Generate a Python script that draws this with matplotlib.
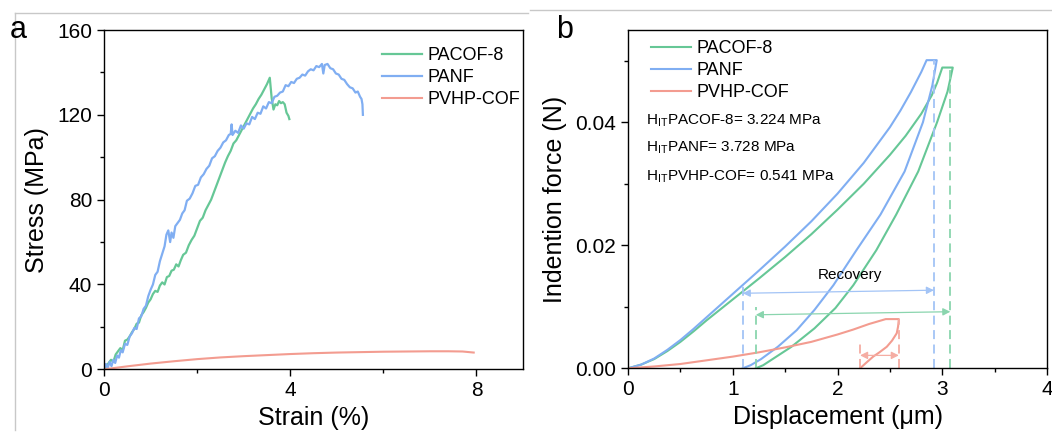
import matplotlib
matplotlib.use('Agg')
import matplotlib.pyplot as plt
from matplotlib.lines import Line2D
from matplotlib.ticker import MultipleLocator, FormatStrFormatter

plt.rcParams['font.family'] = ['Liberation Sans', 'DejaVu Sans']
plt.rcParams['mathtext.fontset'] = 'custom'
plt.rcParams['mathtext.rm'] = 'Liberation Sans'

# ---- (a) tensile curves ----
panf_strain = [0.00, 0.04, 0.08, 0.12, 0.16, 0.20, 0.24, 0.28, 0.32, 0.36,
               0.40, 0.45, 0.50, 0.55, 0.60, 0.65, 0.70, 0.75, 0.80, 0.85,
               0.90, 0.95, 1.00, 1.05, 1.10, 1.15, 1.20, 1.25, 1.30, 1.34,
               1.38, 1.42, 1.45, 1.49, 1.53, 1.58, 1.63, 1.68, 1.73, 1.78,
               1.84, 1.90, 1.96, 2.02, 2.08, 2.14, 2.20, 2.26, 2.32, 2.38,
               2.44, 2.50, 2.56, 2.62, 2.68, 2.72, 2.74, 2.76, 2.82, 2.88,
               2.94, 3.00, 3.06, 3.12, 3.18, 3.24, 3.30, 3.36, 3.42, 3.48,
               3.54, 3.60, 3.66, 3.72, 3.78, 3.84, 3.90, 3.96, 4.02, 4.08,
               4.14, 4.20, 4.26, 4.32, 4.38, 4.44, 4.50, 4.56, 4.62, 4.68,
               4.71, 4.74, 4.80, 4.86, 4.92, 4.98, 5.04, 5.10, 5.16, 5.22,
               5.28, 5.34, 5.40, 5.45, 5.50, 5.53, 5.55, 5.56]
panf_stress = [0.0, 2.5, 0.8, 3.5, 1.5, 4.5, 3.0, 6.5, 5.5, 9.0,
               8.0, 12.0, 11.5, 15.5, 17.0, 19.5, 19.0, 24.0, 25.0, 28.5,
               30.0, 34.5, 37.5, 40.0, 44.5, 46.0, 51.0, 54.5, 58.0, 63.5,
               65.5, 60.0, 64.5, 62.0, 67.5, 69.0, 70.5, 73.5, 75.0, 79.5,
               80.5, 83.0, 86.5, 87.0, 90.5, 92.0, 94.5, 96.0, 99.5, 100.5,
               103.0, 104.5, 107.0, 108.0, 110.5, 111.0, 115.5, 110.5, 112.5, 111.5,
               115.0, 113.5, 116.0, 115.5, 119.0, 118.0, 121.0, 120.5, 124.0, 123.0,
               126.0, 125.5, 128.5, 129.0, 130.5, 131.0, 134.0, 133.5, 135.5, 135.0,
               137.0, 137.5, 139.0, 138.5, 140.5, 141.5, 141.0, 143.0, 142.5, 144.0,
               139.5, 143.5, 144.0, 142.0, 141.5, 139.5, 139.0, 137.0, 136.5, 134.5,
               133.0, 132.5, 130.5, 131.0, 128.5, 127.5, 125.0, 120.0]

pacof_strain = [0.00, 0.05, 0.10, 0.15, 0.20, 0.25, 0.30, 0.35, 0.40, 0.45,
                0.50, 0.55, 0.60, 0.65, 0.70, 0.75, 0.80, 0.85, 0.90, 0.95,
                1.00, 1.05, 1.10, 1.15, 1.20, 1.25, 1.30, 1.35, 1.40, 1.45,
                1.50, 1.55, 1.60, 1.65, 1.70, 1.76, 1.82, 1.88, 1.94, 2.00,
                2.06, 2.12, 2.18, 2.24, 2.30, 2.36, 2.42, 2.48, 2.54, 2.60,
                2.66, 2.72, 2.78, 2.84, 2.90, 2.96, 3.02, 3.08, 3.14, 3.20,
                3.26, 3.32, 3.38, 3.44, 3.50, 3.56, 3.60, 3.64, 3.68, 3.72,
                3.76, 3.80, 3.84, 3.88, 3.92, 3.96, 3.98]
pacof_stress = [0.0, 1.5, 3.0, 4.5, 3.5, 7.0, 8.5, 10.0, 9.0, 13.5,
                14.0, 15.5, 17.5, 19.0, 21.5, 22.0, 25.5, 27.0, 29.0, 31.5,
                33.0, 35.5, 37.0, 36.5, 39.5, 41.0, 40.0, 43.5, 44.0, 46.5,
                47.0, 49.5, 48.5, 51.5, 54.0, 55.0, 58.5, 61.0, 63.0, 66.5,
                70.0, 71.5, 75.0, 77.5, 80.0, 83.5, 87.0, 90.5, 94.0, 97.5,
                100.5, 103.0, 106.5, 108.0, 110.5, 113.0, 115.5, 118.0, 120.5, 123.0,
                125.0, 127.5, 129.5, 132.0, 134.5, 137.5, 128.0, 122.5, 125.0, 124.5,
                126.5, 125.5, 126.0, 125.0, 121.0, 119.5, 118.0]

pvhp_strain = [0, 0.5, 1.0, 1.5, 2.0, 2.5, 3.0, 3.5, 4.0, 4.5,
               5.0, 5.5, 6.0, 6.5, 7.0, 7.4, 7.7, 7.94]
pvhp_stress = [0, 1.4, 2.7, 3.8, 4.8, 5.6, 6.2, 6.7, 7.2, 7.6,
               7.9, 8.1, 8.3, 8.4, 8.5, 8.5, 8.4, 7.9]

# ---- (b) nanoindentation curves: loading (+ hold) and unloading ----
panf_load_h = [0, 0.125, 0.25, 0.375, 0.5, 0.625, 0.75, 1.0, 1.25, 1.5, 1.75,
               2.0, 2.25, 2.5, 2.6, 2.7, 2.8, 2.85, 2.947]
panf_load_f = [0, 0.0006, 0.0016, 0.0030, 0.0046, 0.0064, 0.0083, 0.0121, 0.0159,
               0.0198, 0.0239, 0.0284, 0.0334, 0.0392, 0.0419, 0.0449, 0.0482, 0.0501,
               0.0501]
panf_unload_h = [2.947, 2.905, 2.815, 2.64, 2.41, 2.18, 1.96, 1.78, 1.61, 1.43, 1.27,
                 1.17, 1.095]
panf_unload_f = [0.0501, 0.0460, 0.0400, 0.0320, 0.0250, 0.0192, 0.0135, 0.0095, 0.0062,
                 0.0035, 0.0015, 0.0005, 0.0]

pacof_load_h = [0, 0.125, 0.25, 0.375, 0.5, 0.625, 0.75, 1.0, 1.25, 1.5, 1.75,
                2.0, 2.25, 2.5, 2.65, 2.8, 2.9, 2.95, 3.0, 3.10]
pacof_load_f = [0, 0.0006, 0.0015, 0.0028, 0.0043, 0.0060, 0.0078, 0.0112, 0.0146,
                0.0181, 0.0218, 0.0258, 0.0300, 0.0347, 0.0378, 0.0414, 0.0444, 0.0464,
                0.0489, 0.0489]
pacof_unload_h = [3.10, 3.05, 2.95, 2.77, 2.56, 2.37, 2.15, 1.98, 1.78, 1.56, 1.38,
                  1.29, 1.22]
pacof_unload_f = [0.0489, 0.0450, 0.0400, 0.0320, 0.0250, 0.0192, 0.0135, 0.0098, 0.0065,
                  0.0035, 0.0015, 0.0005, 0.0]

pvhp_load_h = [0, 0.25, 0.5, 0.75, 1.0, 1.25, 1.5, 1.75, 2.0, 2.15, 2.3, 2.4, 2.46, 2.585]
pvhp_load_f = [0, 0.0003, 0.0007, 0.0013, 0.0019, 0.0026, 0.0034, 0.0043, 0.0055, 0.0063,
               0.0072, 0.0077, 0.0080, 0.0080]
pvhp_unload_h = [2.585, 2.578, 2.565, 2.52, 2.47, 2.40, 2.34, 2.28, 2.215]
pvhp_unload_f = [0.0080, 0.0068, 0.0057, 0.0045, 0.0035, 0.0026, 0.0019, 0.0010, 0.0]

hardness_labels = ['H$_{\\mathrm{IT}}$PACOF-8= 3.224 MPa',
                   'H$_{\\mathrm{IT}}$PANF= 3.728 MPa',
                   'H$_{\\mathrm{IT}}$PVHP-COF= 0.541 MPa']
names = ['PACOF-8', 'PANF', 'PVHP-COF']

green = '#66C796'
blue = '#80AEF2'
red = '#F39C90'
green_l = '#8AD5AE'
blue_l = '#A3C4F6'
red_l = '#F5ADA3'

fig = plt.figure(figsize=(10.52, 4.37), dpi=100)
ax1 = fig.add_axes([0.0989, 0.1549, 0.3983, 0.7764])
ax2 = fig.add_axes([0.5970, 0.1572, 0.3983, 0.7741])

for ax in (ax1, ax2):
    for s in ax.spines.values():
        s.set_linewidth(1.0)
    ax.tick_params(which='major', direction='out', length=5, width=1.0, labelsize=15)
    ax.tick_params(which='minor', direction='out', length=3, width=1.0)

ax1.plot(pacof_strain, pacof_stress, color=green, lw=1.6, label=names[0])
ax1.plot(panf_strain, panf_stress, color=blue, lw=1.6, label=names[1])
ax1.plot(pvhp_strain, pvhp_stress, color=red, lw=1.5, label=names[2])
ax1.set_xlim(0, 9)
ax1.set_ylim(0, 160)
ax1.xaxis.set_major_locator(MultipleLocator(4))
ax1.xaxis.set_minor_locator(MultipleLocator(2))
ax1.yaxis.set_major_locator(MultipleLocator(40))
ax1.yaxis.set_minor_locator(MultipleLocator(20))
ax1.set_xlabel('Strain (%)', fontsize=18, labelpad=4)
ax1.set_ylabel('Stress (MPa)', fontsize=18, labelpad=6)
ax1.legend(loc='upper left', bbox_to_anchor=(0.664, 0.95), frameon=False, fontsize=13,
           handlelength=2.2, handletextpad=0.3, labelspacing=0.28, borderpad=0,
           borderaxespad=0)

# loading + unloading loops
ax2.plot(pacof_load_h + pacof_unload_h, pacof_load_f + pacof_unload_f, color=green, lw=1.5,
         label=names[0])
ax2.plot(panf_load_h + panf_unload_h, panf_load_f + panf_unload_f, color=blue, lw=1.5,
         label=names[1])
ax2.plot(pvhp_load_h + pvhp_unload_h, pvhp_load_f + pvhp_unload_f, color=red, lw=1.5,
         label=names[2])

# residual / max depth markers
dash = dict(lw=1.3, ls=(0, (5, 3)))
ax2.plot([panf_unload_h[-1]] * 2, [0, 0.0135], color=blue_l, **dash)
ax2.plot([2.92] * 2, [0, 0.0501], color=blue_l, **dash)
ax2.plot([pacof_unload_h[-1]] * 2, [0, 0.0100], color=green_l, **dash)
ax2.plot([3.077] * 2, [0, 0.0489], color=green_l, **dash)
ax2.plot([pvhp_unload_h[-1]] * 2, [0, 0.0039], color=red_l, **dash)
ax2.plot([pvhp_load_h[-1]] * 2, [0, 0.0080], color=red_l, **dash)

arr = dict(arrowstyle='<|-|>', lw=0.9, mutation_scale=11, shrinkA=0, shrinkB=0)
ax2.annotate('', xy=(2.92, 0.0127), xytext=(panf_unload_h[-1], 0.0122),
             arrowprops=dict(color=blue_l, **arr))
ax2.annotate('', xy=(3.077, 0.0092), xytext=(pacof_unload_h[-1], 0.0087),
             arrowprops=dict(color=green_l, **arr))
ax2.annotate('', xy=(pvhp_load_h[-1], 0.0021), xytext=(pvhp_unload_h[-1], 0.0021),
             arrowprops=dict(color=red_l, **arr))
ax2.text(2.12, 0.0152, 'Recovery', fontsize=11, ha='center', va='center')

for lab, yy in zip(hardness_labels, [0.731, 0.651, 0.566]):
    ax2.text(0.043, yy, lab, transform=ax2.transAxes, fontsize=11, va='center')

ax2.set_xlim(0, 4)
ax2.set_ylim(0, 0.055)
ax2.xaxis.set_major_locator(MultipleLocator(1))
ax2.xaxis.set_minor_locator(MultipleLocator(0.5))
ax2.yaxis.set_major_locator(MultipleLocator(0.02))
ax2.yaxis.set_minor_locator(MultipleLocator(0.01))
ax2.yaxis.set_major_formatter(FormatStrFormatter('%.2f'))
ax2.set_xlabel('Displacement (μm)', fontsize=18, labelpad=4)
ax2.set_ylabel('Indention force (N)', fontsize=18, labelpad=6)
ax2.legend(loc='upper left', bbox_to_anchor=(0.055, 0.97), frameon=False, fontsize=13,
           handlelength=2.2, handletextpad=0.3, labelspacing=0.28, borderpad=0,
           borderaxespad=0)

fig.text(10 / 1052, 1 - 38 / 437, 'a', fontsize=22)
fig.text(556 / 1052, 1 - 38 / 437, 'b', fontsize=22)

# thin gray frame edges
fig.add_artist(Line2D([15 / 1052, 528 / 1052], [1 - 13 / 437] * 2, color='#c8c8c8', lw=1))
fig.add_artist(Line2D([15 / 1052] * 2, [1 - 13 / 437, 1 - 430 / 437], color='#c8c8c8', lw=1))
fig.add_artist(Line2D([530 / 1052, 1], [1 - 10 / 437] * 2, color='#c8c8c8', lw=1))

fig.savefig('out.png', dpi=100)
